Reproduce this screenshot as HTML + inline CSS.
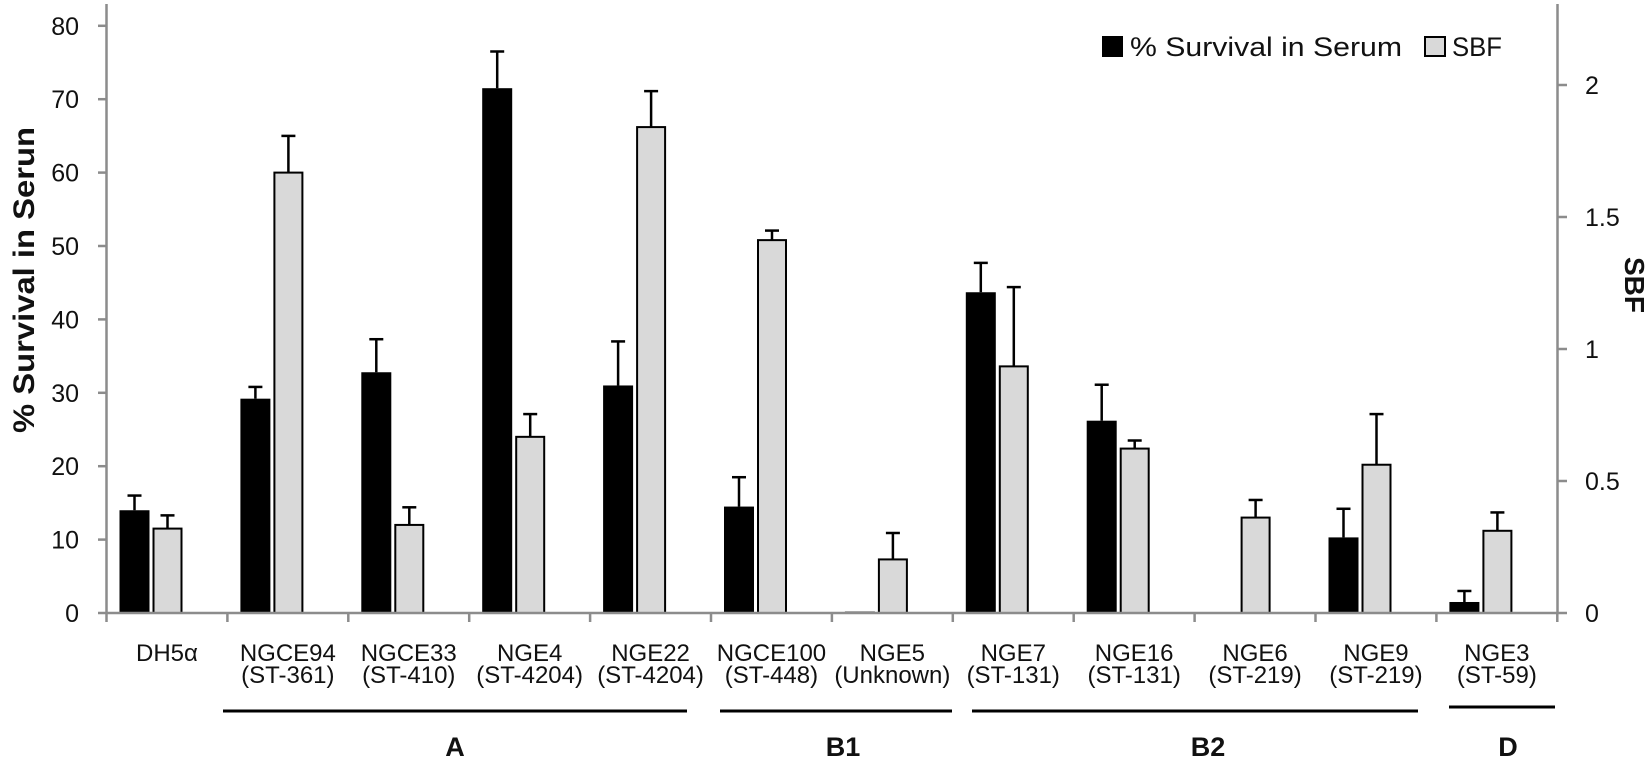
<!DOCTYPE html>
<html><head><meta charset="utf-8"><style>html,body{margin:0;padding:0;background:#fff}svg{display:block}</style></head>
<body>
<svg width="1652" height="760" viewBox="0 0 1652 760" xmlns="http://www.w3.org/2000/svg" font-family="Liberation Sans, sans-serif">
<rect width="1652" height="760" fill="#fff"/>
<g id="bars"></g>
<!-- axes -->
<g stroke="#8c8c8c" stroke-width="2.5" fill="none">
<line x1="106.5" y1="4" x2="106.5" y2="613"/>
<line x1="1557.5" y1="4" x2="1557.5" y2="613"/>
<line x1="106.5" y1="613" x2="1557.5" y2="613"/>
</g>
<g id="ticks" stroke="#8c8c8c" stroke-width="2.5"></g>
<g font-size="25" fill="#111" text-anchor="end" id="lt"></g>
<g font-size="25" fill="#111" id="rt"></g>
<text transform="translate(34,280) rotate(-90)" text-anchor="middle" font-weight="bold" font-size="30" textLength="306" lengthAdjust="spacingAndGlyphs" fill="#111">% Survival in Serun</text>
<text transform="translate(1625,285) rotate(90)" text-anchor="middle" font-weight="bold" font-size="28" fill="#111">SBF</text>
<!-- legend -->
<rect x="1102" y="36" width="21" height="21" fill="#000"/>
<text x="1130" y="56" font-size="27" fill="#111" textLength="272" lengthAdjust="spacingAndGlyphs">% Survival in Serum</text>
<rect x="1425" y="37" width="20" height="19" fill="#d9d9d9" stroke="#000" stroke-width="2"/>
<text x="1452" y="56" font-size="27" fill="#111" textLength="50" lengthAdjust="spacingAndGlyphs">SBF</text>
<g id="cl" font-size="24" fill="#111" text-anchor="middle"></g>
<g stroke="#000" stroke-width="3">
<line x1="223" y1="711" x2="687" y2="711"/>
<line x1="720" y1="711" x2="952" y2="711"/>
<line x1="972" y1="711" x2="1418" y2="711"/>
<line x1="1449" y1="707" x2="1555" y2="707"/>
</g>
<g font-size="27" font-weight="bold" fill="#111" text-anchor="middle">
<text x="455" y="756">A</text><text x="843" y="756">B1</text><text x="1208" y="756">B2</text><text x="1508" y="756">D</text>
</g>
<script>
var ns="http://www.w3.org/2000/svg";
function el(p,t,a,txt){var e=document.createElementNS(ns,t);for(var k in a)e.setAttribute(k,a[k]);if(txt!==undefined)e.textContent=txt;document.getElementById(p).appendChild(e);return e;}
var Y0=613,S=7.34,W=120.9;
function y(v){return Y0-v*S;}
for(var i=0;i<=8;i++){var yy=y(i*10);el('ticks','line',{x1:98,y1:yy,x2:106.5,y2:yy});el('lt','text',{x:79,y:yy+9},String(i*10));}
var rl=['0','0.5','1','1.5','2'];
for(var i=0;i<5;i++){var yy=Y0-i*132;el('ticks','line',{x1:1557.5,y1:yy,x2:1567,y2:yy});el('rt','text',{x:1585,y:yy+9},rl[i]);}
for(var i=0;i<=12;i++){var xx=106.5+W*i;el('ticks','line',{x1:xx,y1:613,x2:xx,y2:622});}
var names=[["DH5α",""],["NGCE94","(ST-361)"],["NGCE33","(ST-410)"],["NGE4","(ST-4204)"],["NGE22","(ST-4204)"],["NGCE100","(ST-448)"],["NGE5","(Unknown)"],["NGE7","(ST-131)"],["NGE16","(ST-131)"],["NGE6","(ST-219)"],["NGE9","(ST-219)"],["NGE3","(ST-59)"]];
var b=[14,29.2,32.8,71.5,31,14.5,0.2,43.7,26.2,0.1,10.3,1.5];
var be=[16,30.8,37.3,76.5,37,18.5,null,47.7,31.1,null,14.2,3];
var g=[11.5,60,12,24,66.2,50.8,7.3,33.6,22.4,13,20.2,11.2];
var ge=[13.3,65,14.4,27.1,71.1,52.1,10.9,44.4,23.5,15.4,27.1,13.7];
for(var i=0;i<12;i++){
 var s=106.5+W*i;
 var c=s+W/2;
 el('cl','text',{x:c,y:661},names[i][0]);
 if(names[i][1])el('cl','text',{x:c,y:683},names[i][1]);
 var bx=s+13,gx=s+47;
 if(be[i]!==null){el('bars','line',{x1:bx+15,y1:y(b[i]),x2:bx+15,y2:y(be[i]),stroke:'#000','stroke-width':2.5});el('bars','line',{x1:bx+8,y1:y(be[i]),x2:bx+22,y2:y(be[i]),stroke:'#000','stroke-width':2.5});}
 el('bars','rect',{x:bx,y:y(b[i]),width:30,height:Math.max(b[i]*S,1.5),fill:'#000'});
 el('bars','line',{x1:gx+14,y1:y(g[i]),x2:gx+14,y2:y(ge[i]),stroke:'#000','stroke-width':2.5});
 el('bars','line',{x1:gx+7,y1:y(ge[i]),x2:gx+21,y2:y(ge[i]),stroke:'#000','stroke-width':2.5});
 el('bars','rect',{x:gx,y:y(g[i]),width:28,height:g[i]*S,fill:'#d9d9d9',stroke:'#000','stroke-width':2});
}
</script>
</svg>
</body></html>
